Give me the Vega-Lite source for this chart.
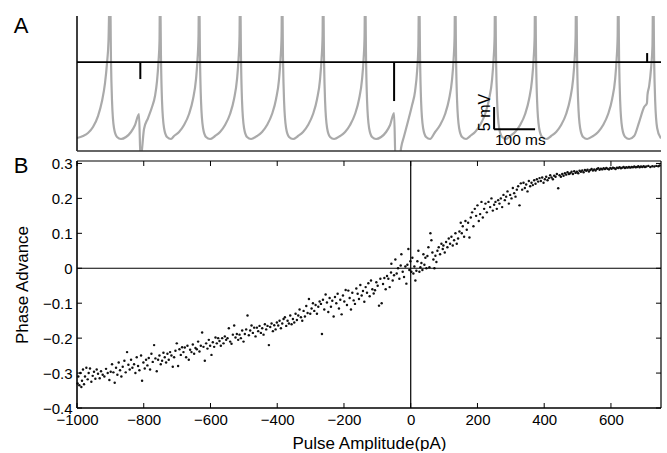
{
"$schema": "https://vega.github.io/schema/vega-lite/v6.json",
"padding": {"left": 13, "top": 15, "right": 3, "bottom": 0},
"spacing": 10,
"bounds": "flush",
"data": {"values": [{"one": 1}]},
"config": {"view": {"stroke": null}, "font": "Liberation Sans", "axis": {"grid": false, "domain": false, "ticks": false, "labelColor": "black", "titleColor": "black", "titleFontWeight": "normal", "labelFlush": false, "labelOverlap": false}},
"datasets": {
"trace": [
{"t":0,"v":2.95},{"t":14.6,"v":3.41},{"t":26.8,"v":4.09},{"t":39,"v":5.45},{"t":51.2,"v":7.95},{"t":61,"v":11.36},{"t":68.3,"v":15.45},{"t":73.2,"v":20.0},{"t":76.8,"v":25.0},{"t":80.5,"v":40},
{"t":82.9,"v":20.45},{"t":85.4,"v":11.36},{"t":90.2,"v":5.23},{"t":97.6,"v":3.18},{"t":107.3,"v":2.73},{"t":119.5,"v":3.18},{"t":131.7,"v":4.32},{"t":141.5,"v":5.91},{"t":151.2,"v":8.41},{"t":154.9,"v":-2},{"t":163.4,"v":5.0},{"t":173.2,"v":7.5},{"t":182.9,"v":10.0},{"t":190.2,"v":12.5},{"t":195.1,"v":15.91},{"t":198.8,"v":20.45},{"t":201.2,"v":25.0},{"t":202.4,"v":40},
{"t":204.9,"v":20.45},{"t":207.3,"v":11.36},{"t":212.2,"v":5.23},{"t":219.5,"v":3.18},{"t":229.3,"v":2.73},{"t":236.6,"v":3.41},{"t":248.8,"v":4.32},{"t":261,"v":5.91},{"t":273.2,"v":8.41},{"t":282.9,"v":11.82},{"t":290.2,"v":16.36},{"t":293.9,"v":20.91},{"t":296.3,"v":26.14},{"t":297.6,"v":40},
{"t":300,"v":20.45},{"t":302.4,"v":11.36},{"t":307.3,"v":5.23},{"t":314.6,"v":3.18},{"t":324.4,"v":2.73},{"t":336.6,"v":3.41},{"t":348.8,"v":4.32},{"t":361,"v":5.91},{"t":373.2,"v":8.41},{"t":382.9,"v":11.82},{"t":390.2,"v":16.36},{"t":393.9,"v":20.91},{"t":396.3,"v":26.14},{"t":397.6,"v":40},
{"t":400,"v":20.45},{"t":402.4,"v":11.36},{"t":407.3,"v":5.23},{"t":414.6,"v":3.18},{"t":424.4,"v":2.73},{"t":439,"v":3.41},{"t":451.2,"v":4.32},{"t":463.4,"v":5.91},{"t":475.6,"v":8.41},{"t":485.4,"v":11.82},{"t":492.7,"v":16.36},{"t":496.3,"v":20.91},{"t":498.8,"v":26.14},{"t":500,"v":40},
{"t":502.4,"v":20.45},{"t":504.9,"v":11.36},{"t":509.8,"v":5.23},{"t":517.1,"v":3.18},{"t":526.8,"v":2.73},{"t":539,"v":3.41},{"t":551.2,"v":4.32},{"t":563.4,"v":5.91},{"t":575.6,"v":8.41},{"t":585.4,"v":11.82},{"t":592.7,"v":16.36},{"t":596.3,"v":20.91},{"t":598.8,"v":26.14},{"t":600,"v":40},
{"t":602.4,"v":20.45},{"t":604.9,"v":11.36},{"t":609.8,"v":5.23},{"t":617.1,"v":3.18},{"t":626.8,"v":2.73},{"t":641.5,"v":3.41},{"t":653.7,"v":4.32},{"t":665.8,"v":5.91},{"t":678,"v":8.41},{"t":687.8,"v":11.82},{"t":695.1,"v":16.36},{"t":698.8,"v":20.91},{"t":701.2,"v":26.14},{"t":702.4,"v":40},
{"t":704.9,"v":20.45},{"t":707.3,"v":11.36},{"t":712.2,"v":5.23},{"t":719.5,"v":3.18},{"t":729.3,"v":2.73},{"t":741.5,"v":3.18},{"t":753.7,"v":4.32},{"t":763.4,"v":5.91},{"t":773.2,"v":8.64},{"t":776.8,"v":-3},{"t":785.4,"v":-3},{"t":790.2,"v":0.68},{"t":797.6,"v":3.41},{"t":807.3,"v":6.82},{"t":817.1,"v":10.45},{"t":824.4,"v":13.64},{"t":829.3,"v":18.18},{"t":832.4,"v":23.86},{"t":834.1,"v":40},
{"t":836.6,"v":20.45},{"t":839,"v":11.36},{"t":843.9,"v":5.23},{"t":851.2,"v":3.18},{"t":861,"v":2.73},{"t":873.2,"v":4.32},{"t":885.4,"v":5.91},{"t":897.6,"v":8.41},{"t":907.3,"v":11.82},{"t":914.6,"v":16.36},{"t":918.3,"v":20.91},{"t":920.7,"v":26.14},{"t":922,"v":40},
{"t":924.4,"v":20.45},{"t":926.8,"v":11.36},{"t":931.7,"v":5.23},{"t":939,"v":3.18},{"t":948.8,"v":2.73},{"t":958.5,"v":3.41},{"t":970.7,"v":4.32},{"t":982.9,"v":5.91},{"t":995.1,"v":8.41},{"t":1004.9,"v":11.82},{"t":1012.2,"v":16.36},{"t":1015.8,"v":20.91},{"t":1018.3,"v":26.14},{"t":1019.5,"v":40},
{"t":1021.9,"v":20.45},{"t":1024.4,"v":11.36},{"t":1029.3,"v":5.23},{"t":1036.6,"v":3.18},{"t":1046.3,"v":2.73},{"t":1056.1,"v":3.41},{"t":1068.3,"v":4.32},{"t":1080.5,"v":5.91},{"t":1092.7,"v":8.41},{"t":1102.4,"v":11.82},{"t":1109.7,"v":16.36},{"t":1113.4,"v":20.91},{"t":1115.9,"v":26.14},{"t":1117.1,"v":40},
{"t":1119.5,"v":20.45},{"t":1121.9,"v":11.36},{"t":1126.8,"v":5.23},{"t":1134.1,"v":3.18},{"t":1143.9,"v":2.73},{"t":1156.1,"v":3.41},{"t":1168.3,"v":4.32},{"t":1180.5,"v":5.91},{"t":1192.7,"v":8.41},{"t":1202.4,"v":11.82},{"t":1209.7,"v":16.36},{"t":1213.4,"v":20.91},{"t":1215.8,"v":26.14},{"t":1217.1,"v":40},
{"t":1219.5,"v":20.45},{"t":1221.9,"v":11.36},{"t":1226.8,"v":5.23},{"t":1234.1,"v":3.18},{"t":1243.9,"v":2.73},{"t":1258.5,"v":3.41},{"t":1270.7,"v":4.32},{"t":1282.9,"v":5.91},{"t":1295.1,"v":8.41},{"t":1304.9,"v":11.82},{"t":1312.2,"v":16.36},{"t":1315.8,"v":20.91},{"t":1318.3,"v":26.14},{"t":1319.5,"v":40},
{"t":1321.9,"v":20.45},{"t":1324.4,"v":11.36},{"t":1329.3,"v":5.23},{"t":1336.6,"v":3.18},{"t":1346.3,"v":2.73},{"t":1358.5,"v":3.41},{"t":1370.7,"v":6.59},{"t":1382.9,"v":10.0},{"t":1389.7,"v":10.91},{"t":1391,"v":12.73},{"t":1395.1,"v":14.77},{"t":1400,"v":19.09},{"t":1403.2,"v":23.86},{"t":1404.9,"v":40},
{"t":1407.3,"v":20.45},{"t":1409.8,"v":11.36},{"t":1414.6,"v":5.23},{"t":1422,"v":3.18},{"t":1424.4,"v":2.95}
],
"pulses": [{"t":154.4,"from":20.23,"to":16.36},{"t":773.2,"from":20.23,"to":11.36},{"t":1390.2,"from":20.23,"to":22.27}],
"xticks": [{"tick":-1000},{"tick":-800},{"tick":-600},{"tick":-400},{"tick":-200},{"tick":0},{"tick":200},{"tick":400},{"tick":600}],
"yticks": [{"tick":-0.4},{"tick":-0.3},{"tick":-0.2},{"tick":-0.1},{"tick":0},{"tick":0.1},{"tick":0.2},{"tick":0.3}],
"phase": [
{"amp":-998,"adv":-0.33},{"amp":-996,"adv":-0.31},{"amp":-993,"adv":-0.335},{"amp":-990,"adv":-0.3},{"amp":-987,"adv":-0.34},{"amp":-985,"adv":-0.322},{"amp":-982,"adv":-0.29},{"amp":-979,"adv":-0.332},{"amp":-976,"adv":-0.31},{"amp":-972,"adv":-0.285},{"amp":-968,"adv":-0.318},{"amp":-965,"adv":-0.3},{"amp":-961,"adv":-0.287},{"amp":-957,"adv":-0.325},{"amp":-953,"adv":-0.308},{"amp":-949,"adv":-0.296},{"amp":-945,"adv":-0.316},{"amp":-941,"adv":-0.29},{"amp":-937,"adv":-0.302},{"amp":-932,"adv":-0.315},{"amp":-928,"adv":-0.295},{"amp":-923,"adv":-0.305},{"amp":-918,"adv":-0.31},{"amp":-913,"adv":-0.288},{"amp":-908,"adv":-0.3},{"amp":-903,"adv":-0.32},{"amp":-899,"adv":-0.296},{"amp":-895,"adv":-0.275},{"amp":-891,"adv":-0.298},{"amp":-887,"adv":-0.328},{"amp":-883,"adv":-0.285},{"amp":-879,"adv":-0.305},{"amp":-875,"adv":-0.27},{"amp":-871,"adv":-0.292},{"amp":-867,"adv":-0.31},{"amp":-863,"adv":-0.282},{"amp":-858,"adv":-0.265},{"amp":-854,"adv":-0.298},{"amp":-850,"adv":-0.24},{"amp":-846,"adv":-0.276},{"amp":-842,"adv":-0.29},{"amp":-838,"adv":-0.262},{"amp":-834,"adv":-0.285},{"amp":-829,"adv":-0.275},{"amp":-825,"adv":-0.3},{"amp":-821,"adv":-0.255},{"amp":-817,"adv":-0.28},{"amp":-813,"adv":-0.292},{"amp":-808,"adv":-0.25},{"amp":-805,"adv":-0.322},{"amp":-801,"adv":-0.27},{"amp":-797,"adv":-0.287},{"amp":-793,"adv":-0.262},{"amp":-789,"adv":-0.278},{"amp":-785,"adv":-0.257},{"amp":-781,"adv":-0.29},{"amp":-777,"adv":-0.245},{"amp":-773,"adv":-0.268},{"amp":-769,"adv":-0.22},{"amp":-765,"adv":-0.258},{"amp":-761,"adv":-0.295},{"amp":-757,"adv":-0.262},{"amp":-753,"adv":-0.25},{"amp":-749,"adv":-0.275},{"amp":-745,"adv":-0.265},{"amp":-741,"adv":-0.242},{"amp":-737,"adv":-0.255},{"amp":-733,"adv":-0.27},{"amp":-729,"adv":-0.245},{"amp":-725,"adv":-0.262},{"amp":-721,"adv":-0.24},{"amp":-717,"adv":-0.25},{"amp":-713,"adv":-0.282},{"amp":-709,"adv":-0.255},{"amp":-705,"adv":-0.236},{"amp":-701,"adv":-0.215},{"amp":-697,"adv":-0.28},{"amp":-693,"adv":-0.232},{"amp":-689,"adv":-0.248},{"amp":-685,"adv":-0.226},{"amp":-681,"adv":-0.24},{"amp":-677,"adv":-0.227},{"amp":-673,"adv":-0.255},{"amp":-669,"adv":-0.222},{"amp":-665,"adv":-0.262},{"amp":-661,"adv":-0.233},{"amp":-657,"adv":-0.24},{"amp":-653,"adv":-0.218},{"amp":-649,"adv":-0.245},{"amp":-645,"adv":-0.228},{"amp":-641,"adv":-0.232},{"amp":-637,"adv":-0.21},{"amp":-633,"adv":-0.238},{"amp":-629,"adv":-0.222},{"amp":-625,"adv":-0.184},{"amp":-621,"adv":-0.225},{"amp":-617,"adv":-0.265},{"amp":-613,"adv":-0.215},{"amp":-609,"adv":-0.23},{"amp":-605,"adv":-0.205},{"amp":-601,"adv":-0.222},{"amp":-597,"adv":-0.248},{"amp":-593,"adv":-0.212},{"amp":-589,"adv":-0.225},{"amp":-585,"adv":-0.198},{"amp":-581,"adv":-0.215},{"amp":-577,"adv":-0.2},{"amp":-573,"adv":-0.208},{"amp":-569,"adv":-0.222},{"amp":-565,"adv":-0.2},{"amp":-561,"adv":-0.215},{"amp":-557,"adv":-0.195},{"amp":-553,"adv":-0.205},{"amp":-549,"adv":-0.2},{"amp":-545,"adv":-0.172},{"amp":-541,"adv":-0.21},{"amp":-537,"adv":-0.216},{"amp":-533,"adv":-0.19},{"amp":-529,"adv":-0.164},{"amp":-525,"adv":-0.198},{"amp":-521,"adv":-0.188},{"amp":-517,"adv":-0.205},{"amp":-513,"adv":-0.19},{"amp":-509,"adv":-0.2},{"amp":-505,"adv":-0.178},{"amp":-501,"adv":-0.21},{"amp":-497,"adv":-0.188},{"amp":-493,"adv":-0.175},{"amp":-489,"adv":-0.135},{"amp":-485,"adv":-0.192},{"amp":-481,"adv":-0.178},{"amp":-477,"adv":-0.164},{"amp":-473,"adv":-0.185},{"amp":-469,"adv":-0.17},{"amp":-465,"adv":-0.195},{"amp":-461,"adv":-0.17},{"amp":-457,"adv":-0.18},{"amp":-453,"adv":-0.165},{"amp":-449,"adv":-0.185},{"amp":-445,"adv":-0.172},{"amp":-441,"adv":-0.19},{"amp":-437,"adv":-0.16},{"amp":-433,"adv":-0.175},{"amp":-429,"adv":-0.165},{"amp":-425,"adv":-0.22},{"amp":-421,"adv":-0.168},{"amp":-417,"adv":-0.158},{"amp":-413,"adv":-0.18},{"amp":-409,"adv":-0.163},{"amp":-405,"adv":-0.175},{"amp":-401,"adv":-0.155},{"amp":-397,"adv":-0.164},{"amp":-393,"adv":-0.15},{"amp":-389,"adv":-0.172},{"amp":-385,"adv":-0.158},{"amp":-381,"adv":-0.145},{"amp":-377,"adv":-0.14},{"amp":-373,"adv":-0.165},{"amp":-369,"adv":-0.15},{"amp":-365,"adv":-0.158},{"amp":-361,"adv":-0.135},{"amp":-357,"adv":-0.16},{"amp":-353,"adv":-0.145},{"amp":-349,"adv":-0.155},{"amp":-345,"adv":-0.13},{"amp":-341,"adv":-0.148},{"amp":-337,"adv":-0.135},{"amp":-333,"adv":-0.118},{"amp":-329,"adv":-0.14},{"amp":-325,"adv":-0.15},{"amp":-321,"adv":-0.122},{"amp":-317,"adv":-0.138},{"amp":-313,"adv":-0.108},{"amp":-309,"adv":-0.128},{"amp":-305,"adv":-0.088},{"amp":-301,"adv":-0.13},{"amp":-297,"adv":-0.115},{"amp":-293,"adv":-0.1},{"amp":-289,"adv":-0.122},{"amp":-285,"adv":-0.105},{"amp":-281,"adv":-0.13},{"amp":-277,"adv":-0.11},{"amp":-273,"adv":-0.095},{"amp":-269,"adv":-0.102},{"amp":-266,"adv":-0.188},{"amp":-263,"adv":-0.09},{"amp":-259,"adv":-0.118},{"amp":-255,"adv":-0.075},{"amp":-251,"adv":-0.098},{"amp":-247,"adv":-0.125},{"amp":-243,"adv":-0.085},{"amp":-239,"adv":-0.11},{"amp":-235,"adv":-0.093},{"amp":-231,"adv":-0.138},{"amp":-227,"adv":-0.082},{"amp":-223,"adv":-0.1},{"amp":-219,"adv":-0.073},{"amp":-215,"adv":-0.115},{"amp":-211,"adv":-0.09},{"amp":-207,"adv":-0.132},{"amp":-203,"adv":-0.078},{"amp":-199,"adv":-0.095},{"amp":-195,"adv":-0.062},{"amp":-191,"adv":-0.105},{"amp":-187,"adv":-0.064},{"amp":-183,"adv":-0.085},{"amp":-179,"adv":-0.118},{"amp":-175,"adv":-0.07},{"amp":-171,"adv":-0.092},{"amp":-167,"adv":-0.102},{"amp":-163,"adv":-0.058},{"amp":-159,"adv":-0.073},{"amp":-155,"adv":-0.088},{"amp":-151,"adv":-0.048},{"amp":-147,"adv":-0.078},{"amp":-143,"adv":-0.065},{"amp":-139,"adv":-0.096},{"amp":-135,"adv":-0.054},{"amp":-131,"adv":-0.07},{"amp":-127,"adv":-0.043},{"amp":-123,"adv":-0.08},{"amp":-119,"adv":-0.035},{"amp":-115,"adv":-0.06},{"amp":-111,"adv":-0.072},{"amp":-107,"adv":-0.063},{"amp":-103,"adv":-0.04},{"amp":-99,"adv":-0.05},{"amp":-95,"adv":-0.107},{"amp":-91,"adv":-0.03},{"amp":-87,"adv":-0.1},{"amp":-83,"adv":-0.045},{"amp":-79,"adv":-0.028},{"amp":-75,"adv":-0.06},{"amp":-71,"adv":-0.022},{"amp":-67,"adv":-0.03},{"amp":-63,"adv":-0.054},{"amp":-59,"adv":-0.012},{"amp":-58,"adv":0.013},{"amp":-54,"adv":-0.035},{"amp":-50,"adv":-0.02},{"amp":-46,"adv":0.025},{"amp":-42,"adv":-0.015},{"amp":-38,"adv":0.0},{"amp":-34,"adv":-0.03},{"amp":-30,"adv":0.008},{"amp":-28,"adv":0.04},{"amp":-24,"adv":-0.01},{"amp":-20,"adv":-0.025},{"amp":-16,"adv":0.005},{"amp":-13,"adv":-0.044},{"amp":-10,"adv":0.01},{"amp":-7,"adv":0.055},{"amp":-4,"adv":-0.005},{"amp":-1,"adv":0.02},
{"amp":2,"adv":-0.01},{"amp":5,"adv":0.03},{"amp":8,"adv":-0.015},{"amp":11,"adv":0.005},{"amp":14,"adv":-0.035},{"amp":17,"adv":-0.007},{"amp":20,"adv":0.02},{"amp":23,"adv":0.05},{"amp":26,"adv":-0.01},{"amp":29,"adv":0.003},{"amp":32,"adv":0.015},{"amp":35,"adv":-0.005},{"amp":38,"adv":0.04},{"amp":41,"adv":0.01},{"amp":44,"adv":0.03},{"amp":47,"adv":0.0},{"amp":50,"adv":0.035},{"amp":53,"adv":0.06},{"amp":56,"adv":0.003},{"amp":59,"adv":0.1},{"amp":62,"adv":0.08},{"amp":65,"adv":0.045},{"amp":68,"adv":0.025},{"amp":71,"adv":0.0},{"amp":74,"adv":0.036},{"amp":77,"adv":0.018},{"amp":80,"adv":0.05},{"amp":84,"adv":0.06},{"amp":88,"adv":0.04},{"amp":92,"adv":0.07},{"amp":96,"adv":0.055},{"amp":98,"adv":0.065},{"amp":102,"adv":0.045},{"amp":106,"adv":0.075},{"amp":110,"adv":0.06},{"amp":114,"adv":0.085},{"amp":118,"adv":0.07},{"amp":122,"adv":0.09},{"amp":126,"adv":0.065},{"amp":130,"adv":0.08},{"amp":134,"adv":0.1},{"amp":138,"adv":0.07},{"amp":142,"adv":0.085},{"amp":146,"adv":0.105},{"amp":150,"adv":0.13},{"amp":153,"adv":0.1},{"amp":156,"adv":0.12},{"amp":160,"adv":0.09},{"amp":164,"adv":0.135},{"amp":168,"adv":0.11},{"amp":172,"adv":0.13},{"amp":176,"adv":0.088},{"amp":180,"adv":0.145},{"amp":184,"adv":0.16},{"amp":188,"adv":0.12},{"amp":192,"adv":0.17},{"amp":196,"adv":0.15},{"amp":200,"adv":0.18},{"amp":204,"adv":0.135},{"amp":208,"adv":0.155},{"amp":212,"adv":0.19},{"amp":216,"adv":0.145},{"amp":220,"adv":0.17},{"amp":224,"adv":0.185},{"amp":228,"adv":0.16},{"amp":233,"adv":0.19},{"amp":238,"adv":0.175},{"amp":242,"adv":0.2},{"amp":246,"adv":0.165},{"amp":250,"adv":0.182},{"amp":254,"adv":0.19},{"amp":258,"adv":0.17},{"amp":262,"adv":0.195},{"amp":266,"adv":0.185},{"amp":270,"adv":0.2},{"amp":274,"adv":0.175},{"amp":278,"adv":0.21},{"amp":282,"adv":0.195},{"amp":286,"adv":0.205},{"amp":290,"adv":0.22},{"amp":294,"adv":0.185},{"amp":298,"adv":0.21},{"amp":302,"adv":0.2},{"amp":306,"adv":0.23},{"amp":310,"adv":0.215},{"amp":314,"adv":0.205},{"amp":318,"adv":0.225},{"amp":322,"adv":0.235},{"amp":326,"adv":0.18},{"amp":330,"adv":0.243},{"amp":334,"adv":0.225},{"amp":338,"adv":0.245},{"amp":342,"adv":0.23},{"amp":346,"adv":0.24},{"amp":350,"adv":0.22},{"amp":354,"adv":0.25},{"amp":358,"adv":0.235},{"amp":362,"adv":0.245},{"amp":366,"adv":0.238},{"amp":370,"adv":0.252},{"amp":374,"adv":0.242},{"amp":378,"adv":0.255},{"amp":382,"adv":0.248},{"amp":386,"adv":0.258},{"amp":390,"adv":0.25},{"amp":394,"adv":0.26},{"amp":398,"adv":0.245},{"amp":402,"adv":0.255},{"amp":406,"adv":0.262},{"amp":410,"adv":0.252},{"amp":414,"adv":0.258},{"amp":418,"adv":0.266},{"amp":422,"adv":0.26},{"amp":426,"adv":0.255},{"amp":430,"adv":0.265},{"amp":434,"adv":0.262},{"amp":438,"adv":0.27},{"amp":442,"adv":0.229},{"amp":446,"adv":0.266},{"amp":450,"adv":0.262},{"amp":454,"adv":0.27},{"amp":458,"adv":0.265},{"amp":462,"adv":0.272},{"amp":466,"adv":0.268},{"amp":470,"adv":0.275},{"amp":474,"adv":0.27},{"amp":478,"adv":0.272},{"amp":482,"adv":0.276},{"amp":486,"adv":0.27},{"amp":490,"adv":0.278},{"amp":494,"adv":0.273},{"amp":498,"adv":0.276},{"amp":502,"adv":0.272},{"amp":506,"adv":0.279},{"amp":510,"adv":0.276},{"amp":514,"adv":0.28},{"amp":518,"adv":0.275},{"amp":522,"adv":0.281},{"amp":526,"adv":0.279},{"amp":530,"adv":0.282},{"amp":534,"adv":0.277},{"amp":538,"adv":0.281},{"amp":542,"adv":0.284},{"amp":546,"adv":0.28},{"amp":550,"adv":0.283},{"amp":554,"adv":0.28},{"amp":558,"adv":0.284},{"amp":562,"adv":0.286},{"amp":566,"adv":0.282},{"amp":570,"adv":0.285},{"amp":574,"adv":0.283},{"amp":578,"adv":0.286},{"amp":582,"adv":0.284},{"amp":586,"adv":0.287},{"amp":590,"adv":0.285},{"amp":594,"adv":0.283},{"amp":598,"adv":0.287},{"amp":602,"adv":0.285},{"amp":606,"adv":0.288},{"amp":610,"adv":0.286},{"amp":614,"adv":0.284},{"amp":618,"adv":0.288},{"amp":622,"adv":0.287},{"amp":626,"adv":0.289},{"amp":630,"adv":0.286},{"amp":634,"adv":0.288},{"amp":638,"adv":0.29},{"amp":642,"adv":0.287},{"amp":646,"adv":0.289},{"amp":650,"adv":0.288},{"amp":654,"adv":0.29},{"amp":658,"adv":0.288},{"amp":662,"adv":0.29},{"amp":666,"adv":0.289},{"amp":670,"adv":0.291},{"amp":674,"adv":0.289},{"amp":678,"adv":0.29},{"amp":682,"adv":0.292},{"amp":686,"adv":0.289},{"amp":690,"adv":0.291},{"amp":694,"adv":0.29},{"amp":698,"adv":0.292},{"amp":702,"adv":0.29},{"amp":706,"adv":0.291},{"amp":712,"adv":0.293},{"amp":718,"adv":0.29},{"amp":724,"adv":0.292},{"amp":730,"adv":0.291},{"amp":736,"adv":0.293},{"amp":742,"adv":0.292},{"amp":746,"adv":0.294}
]
},
"vconcat": [
{
"width": 584, "height": 135,
"layer": [
{"data": {"name": "trace"}, "mark": {"type": "line", "color": "#aaaaaa", "strokeWidth": 2.2, "interpolate": "monotone", "clip": true},
 "encoding": {
  "x": {"field": "t", "type": "quantitative", "scale": {"domain": [0, 1424], "nice": false, "zero": false}, "axis": null},
  "y": {"field": "v", "type": "quantitative", "scale": {"domain": [0, 30.7], "nice": false, "zero": false}, "axis": null}}},
{"mark": {"type": "rule", "color": "black", "strokeWidth": 1.5}, "encoding": {"x": {"datum": 0, "type": "quantitative", "axis": null}}},
{"mark": {"type": "rule", "color": "#333333", "strokeWidth": 1.3}, "encoding": {"y": {"datum": 0, "type": "quantitative", "axis": null}}},
{"mark": {"type": "rule", "color": "black", "strokeWidth": 1.8}, "encoding": {"y": {"datum": 20.23, "type": "quantitative", "axis": null}}},
{"data": {"name": "pulses"}, "mark": {"type": "rule", "color": "black", "strokeWidth": 2}, "encoding": {"x": {"field": "t", "type": "quantitative", "axis": null}, "y": {"field": "from", "type": "quantitative", "axis": null}, "y2": {"field": "to"}}},
{"mark": {"type": "rule", "color": "black", "strokeWidth": 2}, "encoding": {"x": {"datum": 1017, "type": "quantitative", "axis": null}, "y": {"datum": 4.93, "type": "quantitative", "axis": null}, "y2": {"datum": 10}}},
{"mark": {"type": "rule", "color": "black", "strokeWidth": 2}, "encoding": {"x": {"datum": 1017, "type": "quantitative", "axis": null}, "x2": {"datum": 1117}, "y": {"datum": 4.93, "type": "quantitative", "axis": null}}},
{"mark": {"type": "text", "angle": 270, "fontSize": 16, "align": "center", "baseline": "middle", "color": "black"}, "encoding": {"x": {"datum": 996, "type": "quantitative", "axis": null}, "y": {"datum": 8.75, "type": "quantitative", "axis": null}, "text": {"value": "5 mV"}}},
{"mark": {"type": "text", "fontSize": 15.5, "align": "left", "baseline": "middle", "color": "black"}, "encoding": {"x": {"datum": 1019, "type": "quantitative", "axis": null}, "y": {"datum": 2.6, "type": "quantitative", "axis": null}, "text": {"value": "100 ms"}}},
{"mark": {"type": "text", "fontSize": 22, "align": "center", "baseline": "alphabetic", "color": "black"}, "encoding": {"x": {"datum": -136.6, "type": "quantitative", "axis": null}, "y": {"datum": 26.83, "type": "quantitative", "axis": null}, "text": {"value": "A"}}}
]
},
{
"width": 584, "height": 247,
"resolve": {"axis": {"x": "independent", "y": "independent"}},
"layer": [
{"data": {"name": "phase"}, "mark": {"type": "circle", "size": 6, "color": "#111111", "opacity": 1},
 "encoding": {
  "x": {"field": "amp", "type": "quantitative", "scale": {"domain": [-1000, 750], "nice": false, "zero": false}, "axis": {"orient": "bottom", "values": [-1000, -800, -600, -400, -200, 0, 200, 400, 600], "format": "d", "labelPadding": 4, "labelFontSize": 15, "title": "Pulse Amplitude(pA)", "titleFontSize": 17, "titlePadding": 8}},
  "y": {"field": "adv", "type": "quantitative", "scale": {"domain": [-0.4, 0.307], "nice": false, "zero": false}, "axis": {"orient": "left", "values": [-0.4, -0.3, -0.2, -0.1, 0, 0.1, 0.2, 0.3], "labelExpr": "datum.value == 0 ? '0' : format(datum.value, '.1f')", "labelPadding": 5, "labelFontSize": 15, "title": "Phase Advance", "titleFontSize": 17, "titlePadding": 11}}}},
{"mark": {"type": "rule", "color": "black", "strokeWidth": 1.2}, "encoding": {"x": {"datum": 0, "type": "quantitative", "axis": null}}},
{"mark": {"type": "rule", "color": "black", "strokeWidth": 1.2}, "encoding": {"y": {"datum": 0, "type": "quantitative", "axis": null}}},
{"mark": {"type": "rule", "color": "black", "strokeWidth": 1.6}, "encoding": {"x": {"datum": -1000, "type": "quantitative", "axis": null}}},
{"mark": {"type": "rule", "color": "black", "strokeWidth": 1.2}, "encoding": {"x": {"datum": 750, "type": "quantitative", "axis": null}}},
{"mark": {"type": "rule", "color": "black", "strokeWidth": 1.6}, "encoding": {"y": {"datum": -0.4, "type": "quantitative", "axis": null}}},
{"mark": {"type": "rule", "color": "black", "strokeWidth": 1.2}, "encoding": {"y": {"datum": 0.307, "type": "quantitative", "axis": null}}},
{"data": {"name": "xticks"}, "mark": {"type": "rule", "color": "black", "strokeWidth": 1}, "encoding": {"x": {"field": "tick", "type": "quantitative", "axis": null}, "y": {"datum": -0.4, "type": "quantitative", "axis": null}, "y2": {"datum": -0.3857}}},
{"data": {"name": "xticks"}, "mark": {"type": "rule", "color": "black", "strokeWidth": 1}, "encoding": {"x": {"field": "tick", "type": "quantitative", "axis": null}, "y": {"datum": 0.307, "type": "quantitative", "axis": null}, "y2": {"datum": 0.2927}}},
{"data": {"name": "yticks"}, "mark": {"type": "rule", "color": "black", "strokeWidth": 1}, "encoding": {"y": {"field": "tick", "type": "quantitative", "axis": null}, "x": {"datum": -1000, "type": "quantitative", "axis": null}, "x2": {"datum": -985}}},
{"data": {"name": "yticks"}, "mark": {"type": "rule", "color": "black", "strokeWidth": 1}, "encoding": {"y": {"field": "tick", "type": "quantitative", "axis": null}, "x": {"datum": 750, "type": "quantitative", "axis": null}, "x2": {"datum": 735}}},
{"mark": {"type": "text", "fontSize": 22, "align": "center", "baseline": "alphabetic", "color": "black"}, "encoding": {"x": {"datum": -1167.8, "type": "quantitative", "axis": null}, "y": {"datum": 0.2727, "type": "quantitative", "axis": null}, "text": {"value": "B"}}}
]
}
]
}
